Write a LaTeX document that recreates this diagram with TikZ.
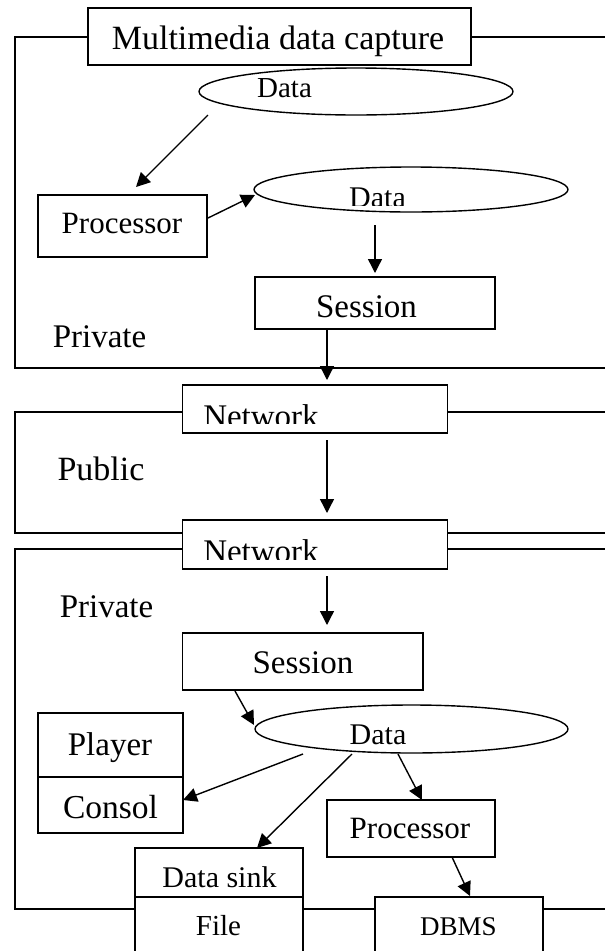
\documentclass[tikz,border=0pt]{standalone}
\usepackage{fontspec}
\setmainfont{Liberation Serif}
\usetikzlibrary{arrows.meta,shapes.geometric}
\newcommand{\fsz}[1]{\fontsize{#1}{#1}\selectfont}
\begin{document}
\begin{tikzpicture}[x=1pt,y=-1pt,line width=1.4pt,
  box/.style={draw,rectangle,inner sep=0pt},
  oval/.style={draw,ellipse,inner sep=0pt},
  arr/.style={-{Triangle[length=14pt,width=14pt]}},
  lbl/.style={inner sep=0pt,anchor=base}]
\useasboundingbox (0,0) rectangle (605,951);
% frames
\draw (88,37) -- (15,37) -- (15,368) -- (606,368);
\draw (471,37) -- (606,37);
\draw (182.5,412) -- (15,412) -- (15,533) -- (606,533);
\draw (447.5,412) -- (606,412);
\draw (182.5,549) -- (15,549) -- (15,909) -- (135,909);
\draw (303,909) -- (375,909);
\draw (543,909) -- (606,909);
\draw (447.5,549) -- (606,549);
% boxes
\node[box,minimum width=383pt,minimum height=57pt,fill=white] (title) at (279.5,36.5) {};
\node[box,minimum width=169pt,minimum height=62pt] (proc1) at (122.5,226) {};
\node[box,minimum width=240pt,minimum height=52pt] (sess1) at (375,303) {};
\node[box,minimum width=265pt,minimum height=48pt,fill=white] (net1) at (315,409) {};
\node[box,minimum width=265pt,minimum height=49pt,fill=white] (net2) at (315,544.5) {};
\node[box,minimum width=240.5pt,minimum height=57pt] (sess2) at (302.75,661.5) {};
\node[box,minimum width=145pt,minimum height=64pt] (player) at (110.5,745) {};
\node[box,minimum width=145pt,minimum height=56pt] (consol) at (110.5,805) {};
\node[box,minimum width=168pt,minimum height=57pt] (proc2) at (411,828.5) {};
\node[box,minimum width=168pt,minimum height=49pt,fill=white] (sink) at (219,872.5) {};
\node[box,minimum width=168pt,minimum height=69pt,fill=white] (file) at (219,931.5) {};
\node[box,minimum width=168pt,minimum height=69pt,fill=white] (dbms) at (459,931.5) {};
% ellipses
\node[oval,minimum width=314pt,minimum height=47pt] (d1) at (356,91.5) {};
\node[oval,minimum width=314pt,minimum height=45pt] (d2) at (411,189.5) {};
\node[oval,minimum width=313pt,minimum height=48pt] (d3) at (411.5,729) {};
% labels
\node[lbl,font=\fsz{34}] (tTitle) at (278,49) {Multimedia data capture};
\node[lbl,font=\fsz{29}] (tD1) at (284.5,97) {Data};
\node[lbl,font=\fsz{31}] (tP1) at (122,233) {Processor};
\begin{scope}
\clip (300,170) rectangle (460,205.5);
\node[lbl,font=\fsz{30}] (tD2) at (377.5,207) {Data};
\end{scope}
\node[lbl,font=\fsz{33}] (tS1) at (366.5,317.5) {Session};
\node[lbl,font=\fsz{33}] (tPr1) at (99.5,347) {Private};
\begin{scope}
\clip (183,386) rectangle (447,423);
\node[lbl,font=\fsz{33}] (tN1) at (261,427) {Network};
\end{scope}
\node[lbl,font=\fsz{34}] (tPub) at (101,480) {Public};
\begin{scope}
\clip (183,521) rectangle (447,559);
\node[lbl,font=\fsz{33}] (tN2) at (261,562) {Network};
\end{scope}
\node[lbl,font=\fsz{33}] (tPr2) at (106.5,617) {Private};
\node[lbl,font=\fsz{33}] (tS2) at (303,673) {Session};
\node[lbl,font=\fsz{30}] (tD3) at (378,744.5) {Data};
\node[lbl,font=\fsz{33}] (tPl) at (110,755) {Player};
\node[lbl,font=\fsz{33.5}] (tCo) at (110.5,818) {Consol};
\node[lbl,font=\fsz{31}] (tP2) at (410,838) {Processor};
\node[lbl,font=\fsz{30}] (tSink) at (219.5,887) {Data sink};
\node[lbl,font=\fsz{29}] (tFile) at (218.5,935) {File};
\node[lbl,font=\fsz{27}] (tDB) at (458.5,935) {DBMS};
% connector end points
\coordinate (a1s) at (208,115);  \coordinate (a1e) at (136,187);
\coordinate (a2s) at (208,218);  \coordinate (a2e) at (255,195);
\coordinate (a3s) at (375,225);  \coordinate (a3e) at (375,273);
\coordinate (a4s) at (327,330);  \coordinate (a4e) at (327,380);
\coordinate (a5s) at (327,440);  \coordinate (a5e) at (327,513);
\coordinate (a6s) at (327,576);  \coordinate (a6e) at (327,625);
\coordinate (a7s) at (235,691);  \coordinate (a7e) at (254,725);
\coordinate (a8s) at (303,754);  \coordinate (a8e) at (183,800);
\coordinate (a9s) at (352,754);  \coordinate (a9e) at (257,848);
\coordinate (a10s) at (398,754); \coordinate (a10e) at (422,800);
\coordinate (a11s) at (452,857); \coordinate (a11e) at (470,896);
\draw[arr] (a1s) -- (a1e);
\draw[arr] (a2s) -- (a2e);
\draw[arr] (a3s) -- (a3e);
\draw[arr] (a4s) -- (a4e);
\draw[arr] (a5s) -- (a5e);
\draw[arr] (a6s) -- (a6e);
\draw[arr] (a7s) -- (a7e);
\draw[arr] (a8s) -- (a8e);
\draw[arr] (a9s) -- (a9e);
\draw[arr] (a10s) -- (a10e);
\draw[arr] (a11s) -- (a11e);
\end{tikzpicture}
\end{document}
